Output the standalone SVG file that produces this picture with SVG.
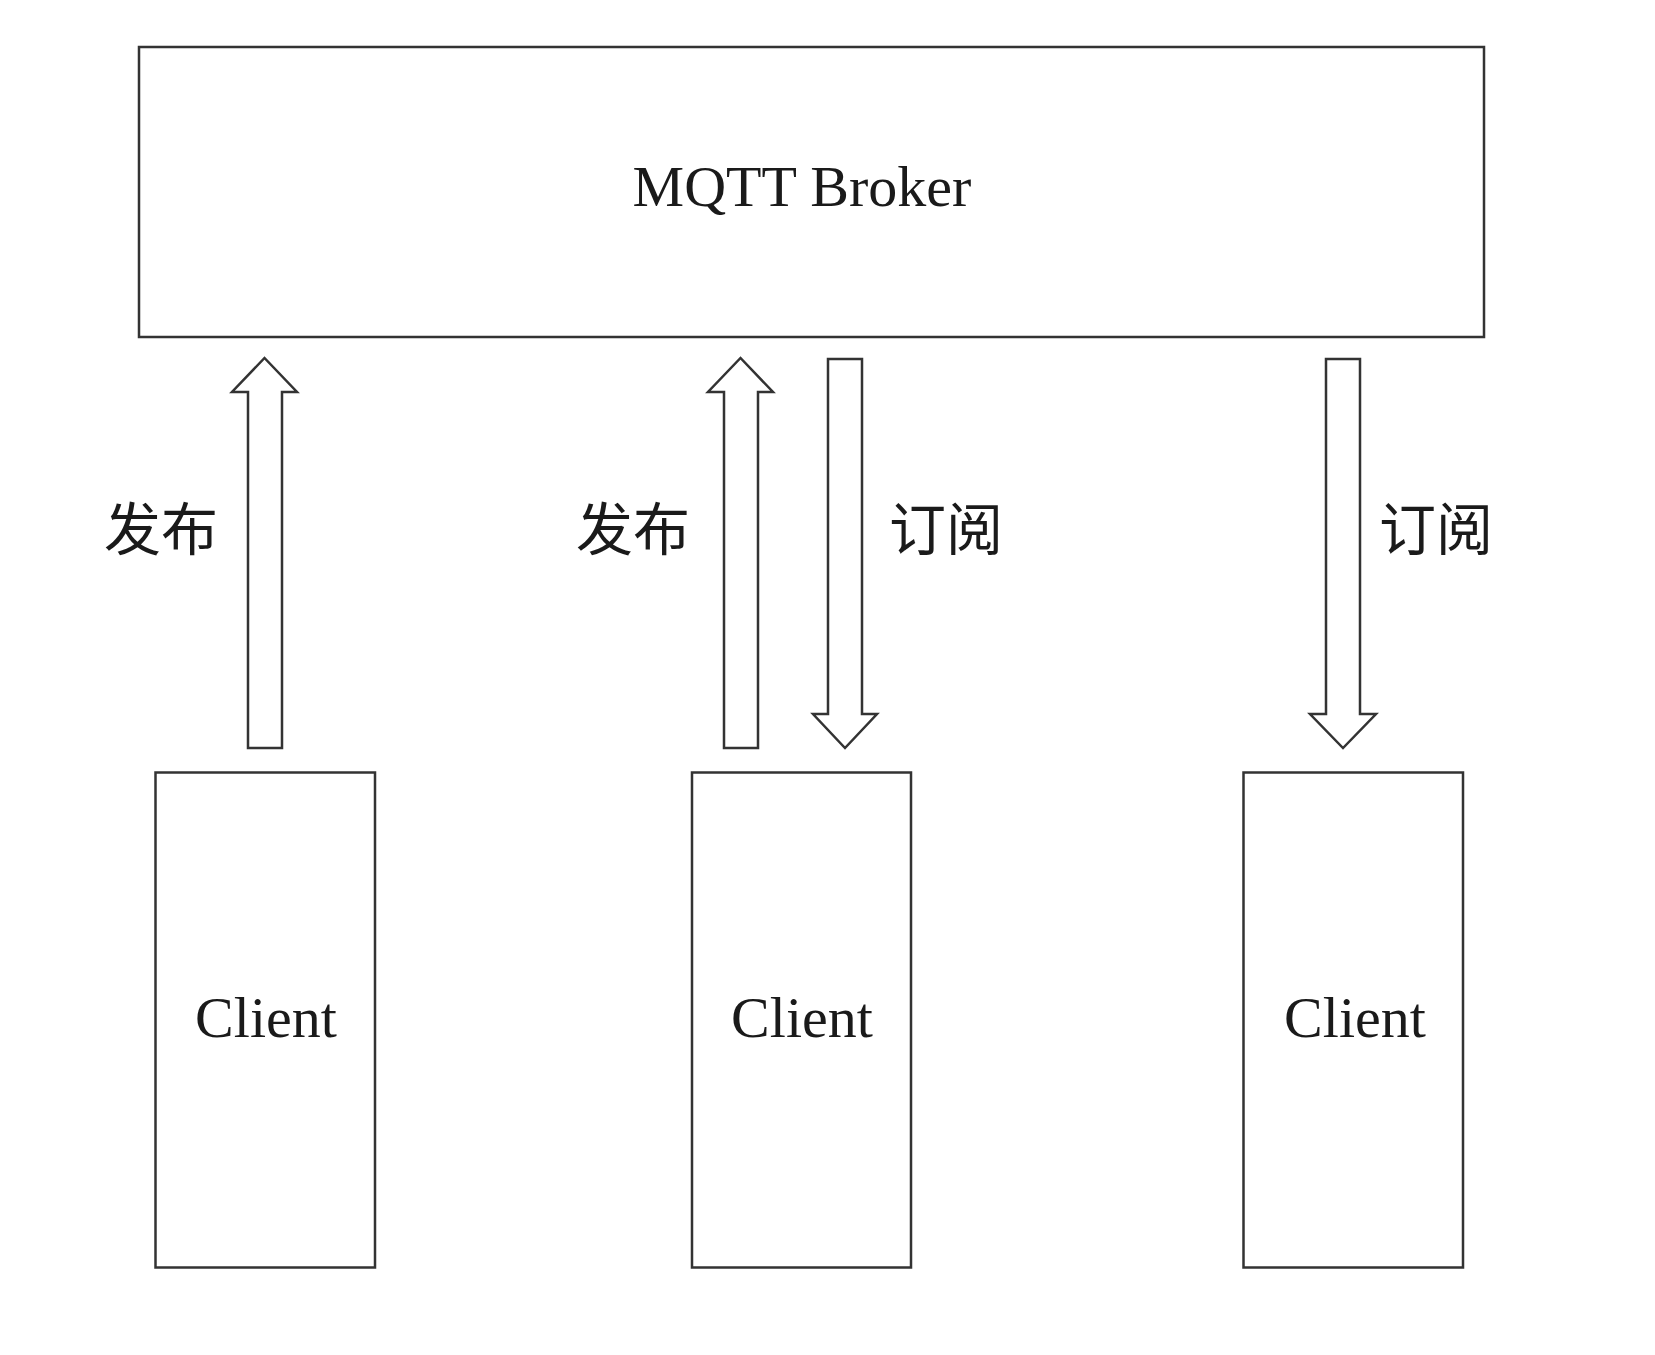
<svg xmlns="http://www.w3.org/2000/svg" width="1655" height="1355" viewBox="0 0 1655 1355">
<style>
.box{fill:#fff;stroke:#333;stroke-width:2.5}
.arr{fill:#fff;stroke:#333;stroke-width:2.5;stroke-linejoin:miter}
.t{font-family:"Liberation Serif","Times New Roman",serif;font-size:58px;fill:#1a1a1a;text-anchor:middle}
.c{font-family:"Noto Sans CJK SC","Noto Sans",sans-serif;font-size:57px;fill:#1a1a1a}
</style>
<rect width="1655" height="1355" fill="#fff"/>
<g id="broker">
<rect class="box" x="139" y="47" width="1345" height="290"/>
<text class="t" x="802" y="206">MQTT Broker</text>
</g>
<g id="client1">
<rect class="box" x="155.5" y="772.5" width="219.5" height="495"/>
<text class="t" x="266" y="1037">Client</text>
</g>
<g id="client2">
<rect class="box" x="692" y="772.5" width="219" height="495"/>
<text class="t" x="802" y="1037">Client</text>
</g>
<g id="client3">
<rect class="box" x="1243.5" y="772.5" width="219.5" height="495"/>
<text class="t" x="1355" y="1037">Client</text>
</g>
<g id="connectors">
<path class="arr" d="M248,748 L248,392 L232,392 L264.5,358 L297,392 L282,392 L282,748 Z"/>
<path class="arr" d="M724,748 L724,392 L708,392 L740.5,358 L773,392 L758,392 L758,748 Z"/>
<path class="arr" d="M828,359 L862,359 L862,714 L877,714 L845,748 L813,714 L828,714 Z"/>
<path class="arr" d="M1326,359 L1360,359 L1360,714 L1376,714 L1343,748 L1310,714 L1326,714 Z"/>
<text class="c" x="104" y="550">发布</text>
<text class="c" x="576" y="550">发布</text>
<text class="c" x="889" y="550">订阅</text>
<text class="c" x="1379" y="550">订阅</text>
</g>
</svg>
